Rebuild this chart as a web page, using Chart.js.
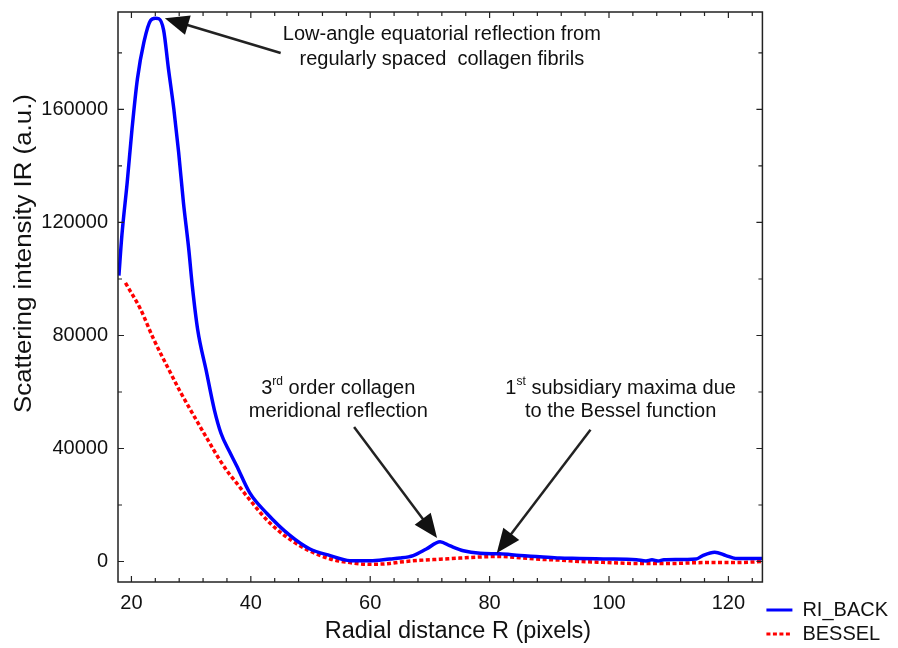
<!DOCTYPE html>
<html><head><meta charset="utf-8">
<script src="https://cdn.jsdelivr.net/npm/chart.js@4"></script>
<style>html,body{margin:0;padding:0;background:#fff}</style>
</head><body>
<canvas id="c" width="898" height="648"></canvas>
<script>
// ---- data ----
const riBackR = [17.9, 18.4, 19.3, 20.1, 21.0, 22.1, 23.2, 24.0, 24.6, 25.4, 26.2, 27.1, 27.9, 28.7, 29.6, 30.2, 31.1, 32.5, 33.9, 35.0, 36.4, 37.6, 39.8, 42.7, 46.5, 49.9, 53.3, 56.6, 60.0, 63.3, 65.0, 67.2, 69.4, 71.7, 73.3, 75.6, 78.4, 81.7, 85.1, 88.4, 91.7, 95.1, 99.0, 104.6, 106.2, 107.2, 108.2, 109.2, 114.6, 115.7, 117.7, 119.6, 121.2, 125.7];
const riBackI = [101200, 115400, 134400, 153100, 170800, 183900, 191500, 192300, 192100, 188000, 174400, 160200, 145000, 127300, 110600, 97500, 82000, 67800, 53600, 45400, 39000, 34000, 24400, 17000, 9300, 4400, 2100, 300, 300, 900, 1200, 2100, 4400, 7000, 5600, 3800, 2900, 2700, 2100, 1700, 1200, 1100, 900, 600, 200, 600, 200, 600, 900, 2100, 3300, 2100, 1100, 1100];
const besselR = [19.0, 21.5, 23.7, 26.2, 28.2, 30.1, 32.7, 34.8, 36.4, 37.6, 39.8, 43.2, 46.5, 49.9, 53.3, 56.6, 60.0, 63.3, 65.0, 68.3, 71.7, 75.0, 78.4, 81.7, 85.1, 88.4, 91.7, 95.1, 99.0, 104.6, 110.2, 115.7, 121.2, 125.7];
const besselI = [98600, 89400, 78800, 68200, 60000, 52900, 43400, 35900, 31000, 27800, 21900, 13600, 7900, 3700, 900, -400, -1000, -700, -200, 400, 800, 1200, 1600, 1800, 1300, 800, 500, 0, -300, -700, -700, -400, -400, 0];
const seriesNames = ['RI_BACK', 'BESSEL'];
const xTickValues = [20, 40, 60, 80, 100, 120];
const yTickValues = [0, 40000, 80000, 120000, 160000];
const xLimits = [17.75, 125.7];
const yLimits = [-7260, 194500];
const xMajorStep = 20, xMinorStep = 4;
const yMajorStep = 40000, yMinorStep = 20000;
const xTitle = 'Radial distance R (pixels)';
const yTitle = 'Scattering intensity IR (a.u.)';

// annotations in data coordinates
const annotations = [
  { lines: [[{t:'Low-angle equatorial reflection from'}], [{t:'regularly spaced  collagen fibrils'}]],
    x: 72.0, ys: [186400, 177600],
    arrow: { from: [45.0, 180000], to: [25.6, 192300] } },
  { lines: [[{t:'3'},{t:'rd',sup:true},{t:' order collagen'}], [{t:'meridional reflection'}]],
    x: 54.65, ys: [61400, 53200],
    arrow: { from: [57.3, 47600], to: [71.2, 8300] } },
  { lines: [[{t:'1'},{t:'st',sup:true},{t:' subsidiary maxima due'}], [{t:'to the Bessel function'}]],
    x: 101.95, ys: [61400, 53200],
    arrow: { from: [96.9, 46600], to: [81.2, 3000] } }
];

const FONT = '"Liberation Sans", Arial, Helvetica, sans-serif';
const TEXT = '#111';

const toPts = (xs, ys) => xs.map((v, i) => ({x: v, y: ys[i]}));

const framePlugin = {
  id: 'frameTicks',
  afterDatasetsDraw(chart) {
    const {ctx, chartArea: a, scales: {x, y}} = chart;
    ctx.save();
    ctx.strokeStyle = '#222';
    ctx.lineWidth = 1.5;
    ctx.strokeRect(a.left, a.top, a.right - a.left, a.bottom - a.top);
    ctx.lineWidth = 1.2;
    ctx.beginPath();
    const x0 = Math.ceil(x.min / xMinorStep);
    for (let i = x0; i * xMinorStep <= x.max; i++) {
      const v = i * xMinorStep;
      const px = x.getPixelForValue(v);
      const len = (v % xMajorStep === 0) ? 6 : 4;
      ctx.moveTo(px, a.bottom); ctx.lineTo(px, a.bottom - len);
      ctx.moveTo(px, a.top); ctx.lineTo(px, a.top + len);
    }
    const y0 = Math.ceil(y.min / yMinorStep);
    for (let i = y0; i * yMinorStep <= y.max; i++) {
      const v = i * yMinorStep;
      const py = y.getPixelForValue(v);
      const len = (v % yMajorStep === 0) ? 6 : 4;
      ctx.moveTo(a.left, py); ctx.lineTo(a.left + len, py);
      ctx.moveTo(a.right, py); ctx.lineTo(a.right - len, py);
    }
    ctx.stroke();
    ctx.restore();
  },
  afterDraw(chart) {
    const {ctx, scales: {x, y}} = chart;
    ctx.save();
    // axis titles
    ctx.fillStyle = TEXT;
    ctx.textAlign = 'center';
    ctx.textBaseline = 'middle';
    ctx.font = '23.5px ' + FONT;
    ctx.fillText(xTitle, x.getPixelForValue(74.7), 632);
    ctx.save();
    ctx.translate(25, y.getPixelForValue(109000));
    ctx.rotate(-Math.PI / 2);
    ctx.scale(1.1, 1);
    ctx.fillText(yTitle, 0, 0);
    ctx.restore();

    // annotations
    const base = '20px ' + FONT, sup = '12px ' + FONT;
    for (const an of annotations) {
      const cx = x.getPixelForValue(an.x);
      an.lines.forEach((segs, li) => {
        const cy = y.getPixelForValue(an.ys[li]);
        let w = 0;
        for (const s of segs) { ctx.font = s.sup ? sup : base; w += ctx.measureText(s.t).width; }
        let px = cx - w / 2;
        ctx.textAlign = 'left';
        ctx.fillStyle = TEXT;
        for (const s of segs) {
          ctx.font = s.sup ? sup : base;
          ctx.textBaseline = 'middle';
          ctx.fillText(s.t, px, s.sup ? cy - 6 : cy);
          px += ctx.measureText(s.t).width;
        }
      });
      const fx = x.getPixelForValue(an.arrow.from[0]), fy = y.getPixelForValue(an.arrow.from[1]);
      const tx = x.getPixelForValue(an.arrow.to[0]), ty = y.getPixelForValue(an.arrow.to[1]);
      const ang = Math.atan2(ty - fy, tx - fx);
      const hl = 24, hw = 10;
      const bx = tx - hl * Math.cos(ang), by = ty - hl * Math.sin(ang);
      ctx.strokeStyle = '#222';
      ctx.fillStyle = '#111';
      ctx.lineWidth = 2.5;
      ctx.beginPath(); ctx.moveTo(fx, fy); ctx.lineTo(bx + 4 * Math.cos(ang), by + 4 * Math.sin(ang)); ctx.stroke();
      ctx.beginPath();
      ctx.moveTo(tx, ty);
      ctx.lineTo(bx + hw * Math.sin(ang), by - hw * Math.cos(ang));
      ctx.lineTo(bx - hw * Math.sin(ang), by + hw * Math.cos(ang));
      ctx.closePath();
      ctx.fill();
    }
    ctx.restore();
  }
};

new Chart(document.getElementById('c'), {
  type: 'line',
  data: {
    datasets: [
      { label: seriesNames[0], data: toPts(riBackR, riBackI), borderColor: '#0000ff', backgroundColor: '#0000ff',
        borderWidth: 3.5, pointRadius: 0, cubicInterpolationMode: 'monotone', fill: false },
      { label: seriesNames[1], data: toPts(besselR, besselI), borderColor: '#ff0000', backgroundColor: '#ff0000',
        borderWidth: 3.5, borderDash: [4, 2.5], pointRadius: 0, cubicInterpolationMode: 'monotone', fill: false }
    ]
  },
  options: {
    responsive: false,
    animation: false,
    layout: { padding: { top: 12, right: 0, bottom: 0, left: 0 } },
    plugins: {
      tooltip: { enabled: false },
      legend: {
        position: 'right', align: 'end',
        labels: {
          usePointStyle: true, pointStyle: 'line', pointStyleWidth: 26, padding: 4,
          color: TEXT, font: { family: FONT, size: 20 },
          generateLabels(chart) {
            const items = Chart.defaults.plugins.legend.labels.generateLabels(chart);
            items.forEach(it => {
              const ds = chart.data.datasets[it.datasetIndex];
              it.lineDash = ds.borderDash || [];
              it.lineWidth = 3;
              it.strokeStyle = ds.borderColor;
              it.pointStyle = 'line';
            });
            return items;
          }
        }
      }
    },
    scales: {
      x: {
        type: 'linear', min: xLimits[0], max: xLimits[1],
        grid: { display: false, drawTicks: false }, border: { display: false },
        ticks: { padding: 9, maxRotation: 0, autoSkip: false, color: TEXT,
                 font: { family: FONT, size: 20 }, callback: v => String(v) },
        afterBuildTicks(s) { s.ticks = xTickValues.map(v => ({value: v})); },
        afterFit(s) { s.height = 66; s.paddingLeft = 0; s.paddingRight = 0; }
      },
      y: {
        type: 'linear', min: yLimits[0], max: yLimits[1],
        grid: { display: false, drawTicks: false }, border: { display: false },
        ticks: { padding: 10, autoSkip: false, color: TEXT,
                 font: { family: FONT, size: 20 }, callback: v => String(v) },
        afterBuildTicks(s) { s.ticks = yTickValues.map(v => ({value: v})); },
        afterFit(s) { s.width = 118; s.paddingTop = 0; s.paddingBottom = 0; }
      }
    }
  },
  plugins: [framePlugin]
});
</script>
</body></html>
